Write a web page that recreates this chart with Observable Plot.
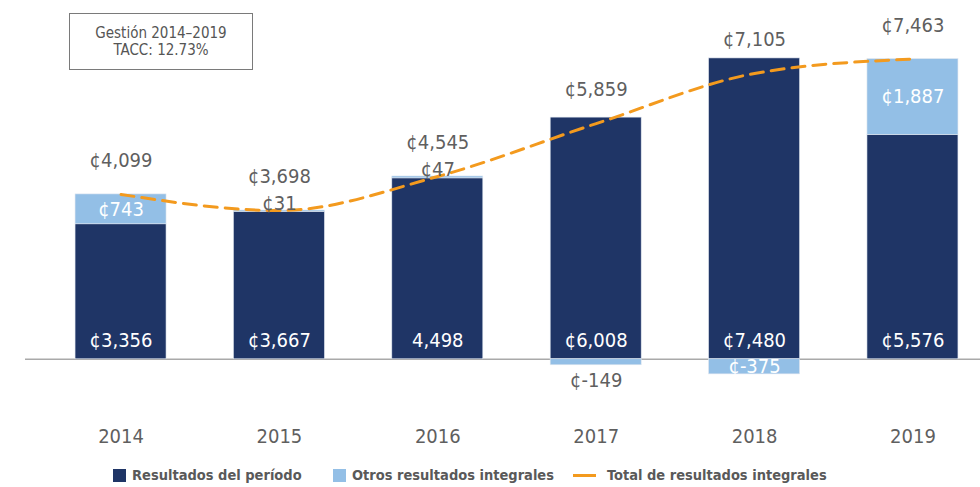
<!DOCTYPE html>
<html>
<head>
<meta charset="utf-8">
<script src="https://cdn.jsdelivr.net/npm/d3@7"></script>
<script src="https://cdn.jsdelivr.net/npm/@observablehq/plot@0.6"></script>
<style>
  html, body { margin: 0; padding: 0; background: #fff; }
  body { width: 980px; height: 487px; position: relative; overflow: hidden;
         font-family: "Liberation Sans Narrow", "DejaVu Sans Condensed", "Roboto", sans-serif; }
  #note { position: absolute; left: 69px; top: 13px; width: 182px; height: 55px;
          border: 1px solid #7a7a7a; color: #555; font-size: 15px; line-height: 17px;
          display: flex; flex-direction: column; justify-content: center; align-items: center;
          font-family: "Liberation Sans Narrow", "DejaVu Sans Condensed", sans-serif; }
  #legend { position: absolute; left: 0; top: 458px; width: 980px; height: 29px; }
  .item { position: absolute; top: 9px; display: flex; align-items: center;
          font-weight: bold; font-size: 14.5px; color: #595959; white-space: nowrap; }
  .sw { width: 13px; height: 13px; margin-right: 6px; }
  .ln { width: 23px; height: 3px; margin-right: 11px; }
</style>
</head>
<body>
<div id="chart"></div>
<div id="note"><div>Gestión 2014–2019</div><div>TACC: 12.73%</div></div>
<div id="legend"></div>
<script>
const years = ["2014", "2015", "2016", "2017", "2018", "2019"];
const resultadosPeriodo = [3356, 3667, 4498, 6008, 7480, 5576];
const otrosResultados = [743, 31, 47, -149, -375, 1887];
const totalResultados = [4099, 3698, 4545, 5859, 7105, 7463];
const periodoLabels = ["¢3,356", "¢3,667", "4,498", "¢6,008", "¢7,480", "¢5,576"];
const seriesNames = ["Resultados del período", "Otros resultados integrales", "Total de resultados integrales"];

const colDark = "#1f3566";
const colLight = "#93bfe6";
const colLine = "#f39a1e";
const colText = "#5f5f5f";
const fmt = v => "¢" + (v < 0 ? "-" : "") + d3.format(",")(Math.abs(v));

const dark = years.map((y, i) => ({year: y, value: resultadosPeriodo[i], label: periodoLabels[i]}));
const light = years.map((y, i) => {
  const v = otrosResultados[i], base = resultadosPeriodo[i];
  const y1 = v > 0 ? base : 0, y2 = v > 0 ? base + v : v;
  const place = Math.abs(v) > 300 ? "in" : (v > 0 ? "above" : "below");
  return {year: y, value: v, y1, y2, mid: (y1 + y2) / 2, place, label: fmt(v)};
});
const total = years.map((y, i) => ({year: y, value: totalResultados[i], label: fmt(totalResultados[i])}));

const font = "Liberation Sans Narrow, DejaVu Sans Condensed, Roboto, sans-serif";

const chart = Plot.plot({
  width: 980,
  height: 458,
  marginLeft: 25,
  marginRight: 0,
  marginTop: 37,
  marginBottom: 59,
  style: {fontFamily: font, background: "#fff"},
  x: {domain: years, range: [25, 1008], paddingInner: 0.4255, paddingOuter: 0.316, round: false, label: null},
  y: {domain: [-1000, 8000], axis: null},
  marks: [
    Plot.ruleY([0], {stroke: "#a9a9a9", strokeWidth: 1.5}),
    Plot.barY(dark, {x: "year", y1: 0, y2: "value", fill: colDark, stroke: "#dfe6ef", strokeWidth: 0.6}),
    Plot.barY(light, {x: "year", y1: "y1", y2: "y2", fill: colLight, stroke: "#dfe6ef", strokeWidth: 0.6}),
    Plot.line(total, {x: "year", y: "value", stroke: colLine, strokeWidth: 3, strokeDasharray: "13,8", curve: "monotone-x"}),
    Plot.text(dark, {x: "year", y: 0, dy: -19, text: "label", fill: "#fff", fontSize: 20}),
    Plot.text(light.filter(d => d.place === "in"), {x: "year", y: "mid", text: "label", fill: "#fff", fontSize: 20}),
    Plot.text(light.filter(d => d.place === "above"), {x: "year", y: "y2", dy: -7, text: "label", fill: colText, fontSize: 20}),
    Plot.text(light.filter(d => d.place === "below"), {x: "year", y: "y2", dy: 15, text: "label", fill: colText, fontSize: 20}),
    Plot.text(total, {x: "year", y: "value", dy: -34, text: "label", fill: colText, fontSize: 20}),
    Plot.axisX({tickSize: 0, tickPadding: 29, fontSize: 20, fill: colText, label: null})
  ]
});
document.getElementById("chart").appendChild(chart);

const legend = document.getElementById("legend");
const items = [
  {name: seriesNames[0], kind: "sw", color: colDark, left: 113},
  {name: seriesNames[1], kind: "sw", color: colLight, left: 333},
  {name: seriesNames[2], kind: "ln", color: colLine, left: 573}
];
for (const it of items) {
  const d = document.createElement("div");
  d.className = "item";
  d.style.left = it.left + "px";
  const s = document.createElement("div");
  s.className = it.kind;
  s.style.background = it.color;
  d.appendChild(s);
  const t = document.createElement("span");
  t.textContent = it.name;
  d.appendChild(t);
  legend.appendChild(d);
}
</script>
</body>
</html>
